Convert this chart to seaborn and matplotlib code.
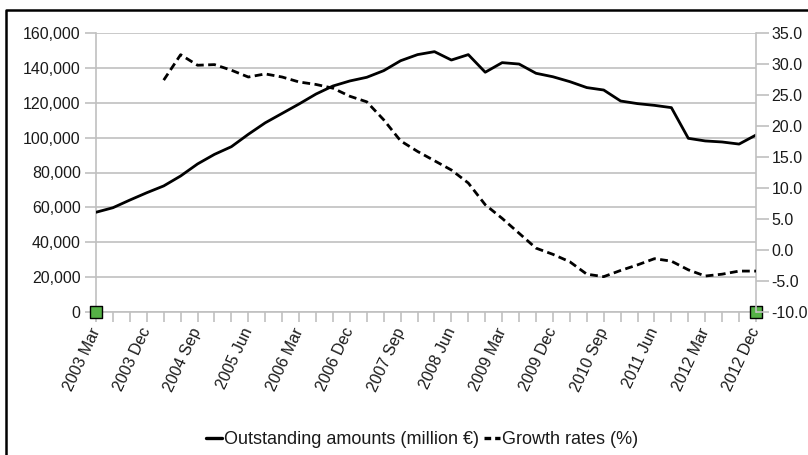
import matplotlib
matplotlib.use("Agg")
import matplotlib.pyplot as plt
from matplotlib.lines import Line2D
from matplotlib.ticker import FuncFormatter, MultipleLocator
import seaborn as sns
import pandas as pd

# Quarterly periods, 2003 Q1 .. 2012 Q4
years = list(range(2003, 2013))
months = ["Mar", "Jun", "Sep", "Dec"]
periods = [f"{y} {m}" for y in years for m in months]

# Outstanding amounts (million EUR)
outstanding = [
    57200, 59800, 64200, 68400, 72300, 78000, 84900, 90400, 94800, 101900,
    108500, 113900, 119300, 125000, 129600, 132500, 134600, 138400, 144100, 147600,
    149300, 144500, 147600, 137500, 143000, 142200, 136900, 134900, 132100, 128700,
    127300, 121000, 119500, 118500, 117200, 99600, 98100, 97500, 96300, 101500,
]

# Annual growth rates (%), first available one year after the series starts
growth = [
    None, None, None, None, 27.4, 31.5, 29.8, 29.9, 29.0, 27.9,
    28.4, 27.9, 27.1, 26.7, 26.1, 24.8, 23.9, 21.0, 17.6, 15.9,
    14.4, 12.9, 10.8, 7.3, 5.1, 2.7, 0.3, -0.7, -1.9, -3.9,
    -4.3, -3.3, -2.4, -1.4, -1.8, -3.2, -4.2, -3.9, -3.4, -3.4,
]

df = pd.DataFrame({
    "idx": range(len(periods)),
    "period": periods,
    "outstanding": outstanding,
    "growth": pd.array(growth, dtype="Float64").astype(float),
})

sns.set_theme(style="white")
plt.rcParams["font.family"] = ["Liberation Sans", "DejaVu Sans"]
plt.rcParams["axes.unicode_minus"] = False

W, H = 808, 455
fig = plt.figure(figsize=(W / 100, H / 100), dpi=100)
ax = fig.add_axes([96 / W, 1 - 312 / H, (756 - 96) / W, (312 - 33) / H])
ax2 = ax.twinx()

grid_c = "#c0c0c0"
text_c = "#1a1a1a"

sns.lineplot(data=df, x="idx", y="outstanding", ax=ax, color="black",
             linewidth=2.0, zorder=3, legend=False)
sns.lineplot(data=df.dropna(), x="idx", y="growth", ax=ax2, color="black",
             linewidth=2.0, zorder=3, legend=False)
ax2.lines[0].set_dashes((2.8, 1.6))

ax.set_xlim(0, len(periods) - 1)
ax.set_ylim(0, 160000)
ax2.set_ylim(-10, 35)

ax.yaxis.set_major_locator(MultipleLocator(20000))
ax.yaxis.set_major_formatter(FuncFormatter(lambda v, p: f"{int(v):,}"))
ax2.yaxis.set_major_locator(MultipleLocator(5))
ax2.yaxis.set_major_formatter(FuncFormatter(lambda v, p: f"{v:.1f}"))

label_idx = list(range(0, len(periods), 3))
ax.set_xticks(label_idx)
ax.set_xticklabels([periods[i] for i in label_idx], rotation=65,
                   ha="right", va="center", rotation_mode="anchor")
ax.set_xticks(range(len(periods)), minor=True)

ax.grid(axis="y", color=grid_c, linewidth=1.2)
ax.grid(axis="x", visible=False)
ax2.grid(False)
ax.set_axisbelow(True)

for a in (ax, ax2):
    a.set_xlabel("")
    a.set_ylabel("")
    for s in a.spines.values():
        s.set_visible(False)

ax.spines["left"].set_visible(True)
ax.spines["left"].set_color(grid_c)
ax.spines["left"].set_linewidth(1.2)
ax.spines["bottom"].set_visible(True)
ax.spines["bottom"].set_color(grid_c)
ax.spines["bottom"].set_linewidth(1.2)
ax2.spines["right"].set_visible(True)
ax2.spines["right"].set_color(grid_c)
ax2.spines["right"].set_linewidth(1.2)

ax.tick_params(axis="y", which="both", direction="out", length=8, width=1.2,
               color=grid_c, labelsize=11.5, labelcolor=text_c, pad=3, left=True)
ax.tick_params(axis="x", which="both", direction="out", length=7, width=1.2,
               color=grid_c, labelsize=11.5, labelcolor=text_c, pad=5, bottom=True)
ax2.tick_params(axis="y", which="both", direction="out", length=9, width=1.2,
                color=grid_c, labelsize=11.5, labelcolor=text_c, pad=2, right=True)

# End markers on the category axis
ax.scatter([0, len(periods) - 1], [0, 0], marker="s", s=75, color="#55b146",
           edgecolor="black", linewidth=1.0, zorder=5, clip_on=False)

handles = [
    Line2D([], [], color="black", linewidth=2.4),
    Line2D([], [], color="black", linewidth=2.4, dashes=(2.0, 1.2)),
]
fig.legend(handles, ["Outstanding amounts (million \u20ac)", "Growth rates (%)"],
           loc="center", bbox_to_anchor=(422 / W, 1 - 440 / H), ncol=2,
           frameon=False, handlelength=0.9, handletextpad=0.1, columnspacing=0.3,
           prop={"family": "Liberation Sans", "size": 13},
           labelcolor=text_c)

# Frame lines along the left and top edges
fig.add_artist(Line2D([6 / W, 6 / W, 1.0], [0.0, 1 - 10 / H, 1 - 10 / H],
                      transform=fig.transFigure, color="black", linewidth=1.8))

fig.savefig("out.png", dpi=100)
